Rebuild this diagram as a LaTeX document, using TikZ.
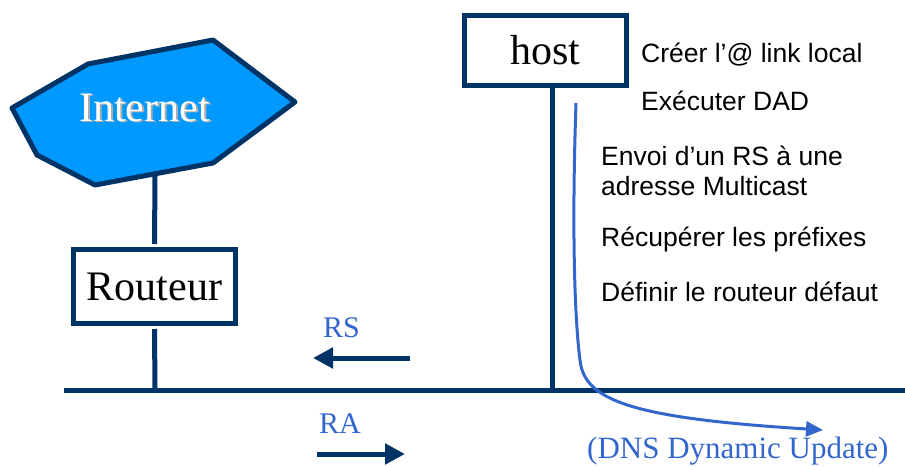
\documentclass[tikz,border=0pt]{standalone}
\usepackage{fontspec}
\setmainfont{Liberation Serif}
\newfontfamily\sansfam{Liberation Sans}
\usetikzlibrary{arrows.meta}
\definecolor{navy}{RGB}{0,51,102}
\definecolor{netfill}{RGB}{0,153,255}
\definecolor{msgblue}{RGB}{51,102,204}
\newcommand{\shadowedtext}[1]{\rlap{\raisebox{-1.5pt}{\hspace{2pt}\textcolor{gray!65}{#1}}}\textcolor{white}{#1}}
\begin{document}
\begin{tikzpicture}[x=1pt,y=-1pt,
  netline/.style={draw=navy, line width=5pt},
  devbox/.style={draw=navy, line width=5pt, fill=white, inner sep=0pt,
    minimum width=162pt, font=\fontsize{42}{46}\selectfont},
  stepnote/.style={font=\sansfam\fontsize{26.5}{30}\selectfont, anchor=base west, inner sep=0pt},
  msglabel/.style={text=msgblue, font=\fontsize{30}{34}\selectfont, anchor=base west, inner sep=0pt},
  fatarrow/.style={draw=navy, line width=5pt, -{Triangle[length=20pt,width=20pt]}},
  flow/.style={draw=msgblue, line width=3pt, -{Triangle[length=17pt,width=15pt]}}]
\useasboundingbox (0,0) rectangle (905,466);

% shared link
\coordinate (busL) at (64,390);
\coordinate (busR) at (905,390);
\coordinate (tapR) at (155,390);
\coordinate (tapH) at (552,390);
\coordinate (netfoot) at (155,176);

% devices
\node[devbox, minimum height=74pt] (routeur) at (154.5,286.5) {Routeur};
\node[devbox, minimum height=70pt] (host) at (545.5,50.5) {host};

% drops onto the link
\draw[netline] (netfoot) -- ([yshift=3pt]routeur.north);
\draw[netline] ([yshift=-3pt]routeur.south) -- (tapR);
\draw[netline] (tapH |- host.south) -- (tapH);
\draw[netline] (busL) -- (busR);

% Internet cloud
\draw[navy, line width=5pt, fill=netfill, line join=round]
  (12,108) -- (88,64) -- (213,40) -- (295,102) -- (213,163) -- (95,185) -- (37,155) -- cycle;
\node[anchor=base west, inner sep=0pt, font=\fontsize{42}{46}\selectfont] (internet) at (79,121) {\shadowedtext{Internet}};

% host configuration steps
\node[stepnote] (s1) at (641,62) {Créer l’@ link local};
\node[stepnote] (s2) at (641,110) {Exécuter DAD};
\node[stepnote] (s3) at (601,165) {Envoi d’un RS à une};
\node[stepnote] (s4) at (601,195) {adresse Multicast};
\node[stepnote] (s5) at (601,246) {Récupérer les préfixes};
\node[stepnote] (s6) at (601,301) {Définir le routeur défaut};

% router solicitation / advertisement
\node[msglabel] (rs) at (323,337) {RS};
\node[msglabel] (ra) at (319,433) {RA};
\coordinate (rsA) at (410,358);
\coordinate (rsB) at (313,358);
\coordinate (raA) at (317,454);
\coordinate (raB) at (405,454);
\draw[fatarrow] (rsA) -- (rsB);
\draw[fatarrow] (raA) -- (raB);

% dynamic DNS update
\coordinate (dnsA) at (576,103);
\coordinate (dnsB) at (823,430);
\draw[flow] (dnsA) .. controls (571,250) and (576,330) .. (580,360)
  .. controls (584,400) and (630,418) .. (dnsB);
\node[msglabel, font=\fontsize{31}{34}\selectfont] (dns) at (587,458) {(DNS Dynamic Update)};
\end{tikzpicture}
\end{document}
